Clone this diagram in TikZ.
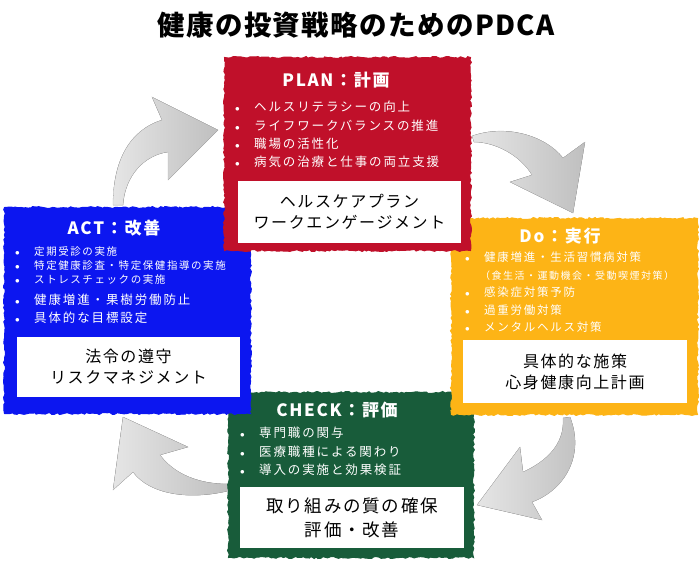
\documentclass[tikz,border=0pt]{standalone}
\usepackage{fontspec}
\usepackage{tikz}
\usetikzlibrary{positioning,decorations.pathmorphing}

\newfontfamily\jp[LetterSpace=15]{Noto Sans CJK JP}
\newfontfamily\jpnote[LetterSpace=10]{Noto Sans CJK JP}
\newfontfamily\jptitle[LetterSpace=5]{Noto Sans CJK JP}
\definecolor{planred}{RGB}{192,16,42}
\definecolor{actblue}{RGB}{12,22,240}
\definecolor{doorange}{RGB}{253,180,22}
\definecolor{checkgreen}{RGB}{24,92,58}
\newcommand{\bul}{\makebox[19pt][l]{\fontsize{9}{9}\selectfont$\bullet$}}

\begin{document}
\begin{tikzpicture}[x=1pt,y=-1pt,
    phase/.style={rectangle,anchor=north west,inner sep=0pt,fill=#1,draw=#1,line width=1pt,
      decorate,decoration={random steps,segment length=2.5pt,amplitude=1pt}},
    phase title/.style={font=\jpnote\bfseries\fontsize{17}{20}\selectfont,text=white,inner sep=0pt},
    items/.style={anchor=north west,inner sep=0pt,align=left,text=white,
      font=\jp\fontsize{12.5}{18.3}\selectfont},
    note box/.style={rectangle,fill=white,inner sep=0pt,align=center,
      font=\jpnote\fontsize{16}{21}\selectfont},
    cycle arrow/.style={left color=gray!20,right color=gray!50,draw=gray!55,line width=0.3pt}]
  \pgfmathsetseed{7}
  \useasboundingbox (0,0) rectangle (699,563);

  \node[font=\jptitle\bfseries\fontsize{27.5}{30}\selectfont] (title) at (356,25) {健康の投資戦略のためのPDCA};

  % arrows between the phases
  \filldraw[cycle arrow] (113,205) .. controls (113,160) and (130,130) .. (162,120) -- (152,97) -- (218,130)
    -- (168,180) -- (168,152) .. controls (145,155) and (125,175) .. (123,205) -- cycle;
  \filldraw[cycle arrow] (472,136) .. controls (505,124) and (545,135) .. (563,158) -- (585,142) -- (573,213)
    -- (510,182) -- (532,175) .. controls (520,155) and (495,142) .. (474,142) -- cycle;
  \filldraw[cycle arrow] (570,417) .. controls (585,455) and (565,490) .. (532,502) -- (542,520) -- (477,505)
    -- (520,447) -- (523,472) .. controls (545,462) and (565,445) .. (563,418) -- cycle;
  \filldraw[cycle arrow] (228,491) .. controls (190,500) and (150,495) .. (133,472) -- (113,490) -- (123,417)
    -- (188,447) -- (160,455) .. controls (175,475) and (200,484) .. (228,484) -- cycle;

  % CHECK
  \node[phase=checkgreen,minimum width=245pt,minimum height=165pt] (check) at (228,392) {};
  \node[phase title] (checktitle) at (337,410) {CHECK：評価};
  \node[items] (checkitems) at (240,427) {\bul 専門職の関与\\ \bul 医療職種による関わり\\ \bul 導入の実施と効果検証};
  \node[note box,minimum width=224pt,minimum height=61pt,font=\jpnote\fontsize{17.5}{24}\selectfont]
    (checknote) at (352,517.5) {取り組みの質の確保\\評価・改善};

  % ACT
  \node[phase=actblue,minimum width=246pt,minimum height=206pt] (act) at (4,207) {};
  \node[phase title] (acttitle) at (114,228) {ACT：改善};
  \node[items,font=\jp\fontsize{10.5}{14}\selectfont] (actitems) at (15,246.5)
    {\bul 定期受診の実施\\ \bul 特定健康診査・特定保健指導の実施\\ \bul ストレスチェックの実施};
  \node[items,below right=9pt and 0pt of actitems.south west] (actgoals)
    {\bul 健康増進・果樹労働防止\\ \bul 具体的な目標設定};
  \node[note box,minimum width=223pt,minimum height=60pt] (actnote) at (128.5,367) {法令の遵守\\リスクマネジメント};

  % Do
  \node[phase=doorange,minimum width=246pt,minimum height=196pt] (do) at (451,218) {};
  \node[phase title] (dotitle) at (560,236) {Do：実行};
  \node[items,font=\jp\fontsize{11.5}{17.5}\selectfont] (doitems) at (465,252)
    {\bul 健康増進・生活習慣病対策\\ \hspace{15pt}{\fontsize{10}{17.5}\selectfont（食生活・運動機会・受動喫煙対策）}\\
     \bul 感染症対策予防\\ \bul 過重労働対策\\ \bul メンタルヘルス対策};
  \node[note box,minimum width=224pt,minimum height=63pt] (donote) at (575,371.5) {具体的な施策\\心身健康向上計画};

  % PLAN
  \node[phase=planred,minimum width=246pt,minimum height=193pt] (plan) at (224,57) {};
  \node[phase title] (plantitle) at (336,80) {PLAN：計画};
  \node[items] (planitems) at (235,101) {\bul ヘルスリテラシーの向上\\ \bul ライフワークバランスの推進\\
    \bul 職場の活性化\\ \bul 病気の治療と仕事の両立支援};
  \node[note box,minimum width=223pt,minimum height=62pt] (plannote) at (349.5,212) {ヘルスケアプラン\\ワークエンゲージメント};
\end{tikzpicture}
\end{document}
